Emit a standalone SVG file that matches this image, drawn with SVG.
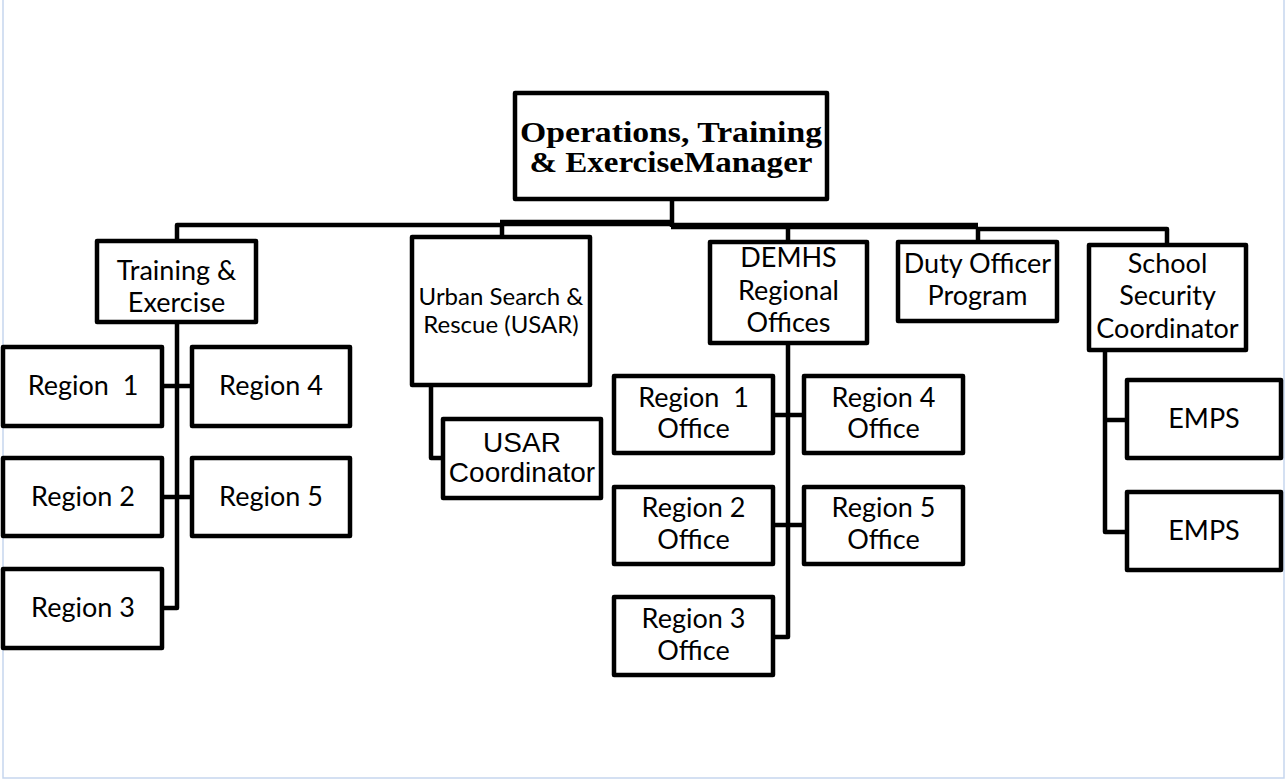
<svg xmlns="http://www.w3.org/2000/svg" width="1286" height="780" viewBox="0 0 1286 780">
<style>
.box{fill:#fff;stroke:#000;stroke-width:4.5;stroke-linejoin:round}
.ln{fill:none;stroke:#000;stroke-width:4.5;stroke-linejoin:round}
.thk{fill:none;stroke:#000;stroke-width:6.5}
.c{font-family:Lato,"Open Sans",sans-serif;font-size:27px;fill:#000;text-anchor:middle}
.s{font-size:24px}
.a{font-family:"Liberation Sans",Arial,sans-serif;font-size:28px;fill:#000;text-anchor:middle}
.t{font-family:"Liberation Serif","Times New Roman",serif;font-weight:bold;font-size:30px;fill:#000;text-anchor:middle}
</style>
<rect width="1286" height="780" fill="#fff"/>
<path d="M3 0V778H1284V0" fill="none" stroke="#c6d6ee" stroke-width="1.5"/>
<g id="connectors">
<path class="ln" d="M177 241V225H501"/>
<path class="thk" d="M500 223H672"/>
<path class="thk" d="M671 226H978"/>
<path class="ln" d="M978 229H1167V245"/>
<path class="ln" d="M672 200V227"/>
<path class="ln" d="M502 225V237"/>
<path class="ln" d="M788 228V242"/>
<path class="ln" d="M978 228V242"/>
<path class="ln" d="M177 322V608H162"/>
<path class="ln" d="M162 386H192M162 497H192"/>
<path class="ln" d="M431 385V458H443"/>
<path class="ln" d="M788 343V637H773"/>
<path class="ln" d="M773 415H804M773 525H804"/>
<path class="ln" d="M1105 350V532H1127M1105 420H1127"/>
</g>
<g id="manager"><rect class="box" x="515" y="93" width="312" height="106"/>
<text class="t" x="671" y="142" textLength="302" lengthAdjust="spacingAndGlyphs">Operations, Training</text>
<text class="t" x="671" y="172" textLength="283" lengthAdjust="spacingAndGlyphs">&amp; ExerciseManager</text></g>
<g id="training"><rect class="box" x="97" y="241" width="159" height="81"/>
<text class="c" x="176.5" y="280">Training &amp;</text>
<text class="c" x="176.5" y="312">Exercise</text></g>
<g id="region1"><rect class="box" x="3" y="347" width="159" height="79"/>
<text class="c" x="83" y="395" xml:space="preserve">Region  1</text></g>
<g id="region2"><rect class="box" x="3" y="458" width="159" height="78"/>
<text class="c" x="83" y="506">Region 2</text></g>
<g id="region3"><rect class="box" x="3" y="569" width="159" height="79"/>
<text class="c" x="83" y="617">Region 3</text></g>
<g id="region4"><rect class="box" x="192" y="347" width="158" height="79"/>
<text class="c" x="271" y="395">Region 4</text></g>
<g id="region5"><rect class="box" x="192" y="458" width="158" height="78"/>
<text class="c" x="271" y="506">Region 5</text></g>
<g id="usar"><rect class="box" x="412" y="237" width="178" height="148"/>
<text class="c s" x="501" y="305">Urban Search &amp;</text>
<text class="c s" x="501" y="333">Rescue (USAR)</text></g>
<g id="usar-coord"><rect class="box" x="443" y="419" width="158" height="79"/>
<text class="a" x="522" y="452">USAR</text>
<text class="a" x="522" y="482">Coordinator</text></g>
<g id="demhs"><rect class="box" x="710" y="242" width="157" height="101"/>
<text class="c" x="788.5" y="267">DEMHS</text>
<text class="c" x="788.5" y="300">Regional</text>
<text class="c" x="788.5" y="332">Offices</text></g>
<g id="r1o"><rect class="box" x="614" y="376" width="159" height="77"/>
<text class="c" x="693.5" y="407" xml:space="preserve">Region  1</text>
<text class="c" x="693.5" y="438">Office</text></g>
<g id="r2o"><rect class="box" x="614" y="487" width="159" height="77"/>
<text class="c" x="693.5" y="517">Region 2</text>
<text class="c" x="693.5" y="549">Office</text></g>
<g id="r3o"><rect class="box" x="614" y="597" width="159" height="78"/>
<text class="c" x="693.5" y="628">Region 3</text>
<text class="c" x="693.5" y="660">Office</text></g>
<g id="r4o"><rect class="box" x="804" y="376" width="159" height="77"/>
<text class="c" x="883.5" y="407">Region 4</text>
<text class="c" x="883.5" y="438">Office</text></g>
<g id="r5o"><rect class="box" x="804" y="487" width="159" height="77"/>
<text class="c" x="883.5" y="517">Region 5</text>
<text class="c" x="883.5" y="549">Office</text></g>
<g id="duty"><rect class="box" x="898" y="242" width="159" height="79"/>
<text class="c" x="977.5" y="273">Duty Officer</text>
<text class="c" x="977.5" y="305">Program</text></g>
<g id="school"><rect class="box" x="1089" y="245" width="157" height="105"/>
<text class="c" x="1167.5" y="273">School</text>
<text class="c" x="1167.5" y="305">Security</text>
<text class="c" x="1167.5" y="338">Coordinator</text></g>
<g id="emps1"><rect class="box" x="1127" y="380" width="154" height="78"/>
<text class="c" x="1204" y="428">EMPS</text></g>
<g id="emps2"><rect class="box" x="1127" y="492" width="154" height="78"/>
<text class="c" x="1204" y="540">EMPS</text></g>
</svg>
